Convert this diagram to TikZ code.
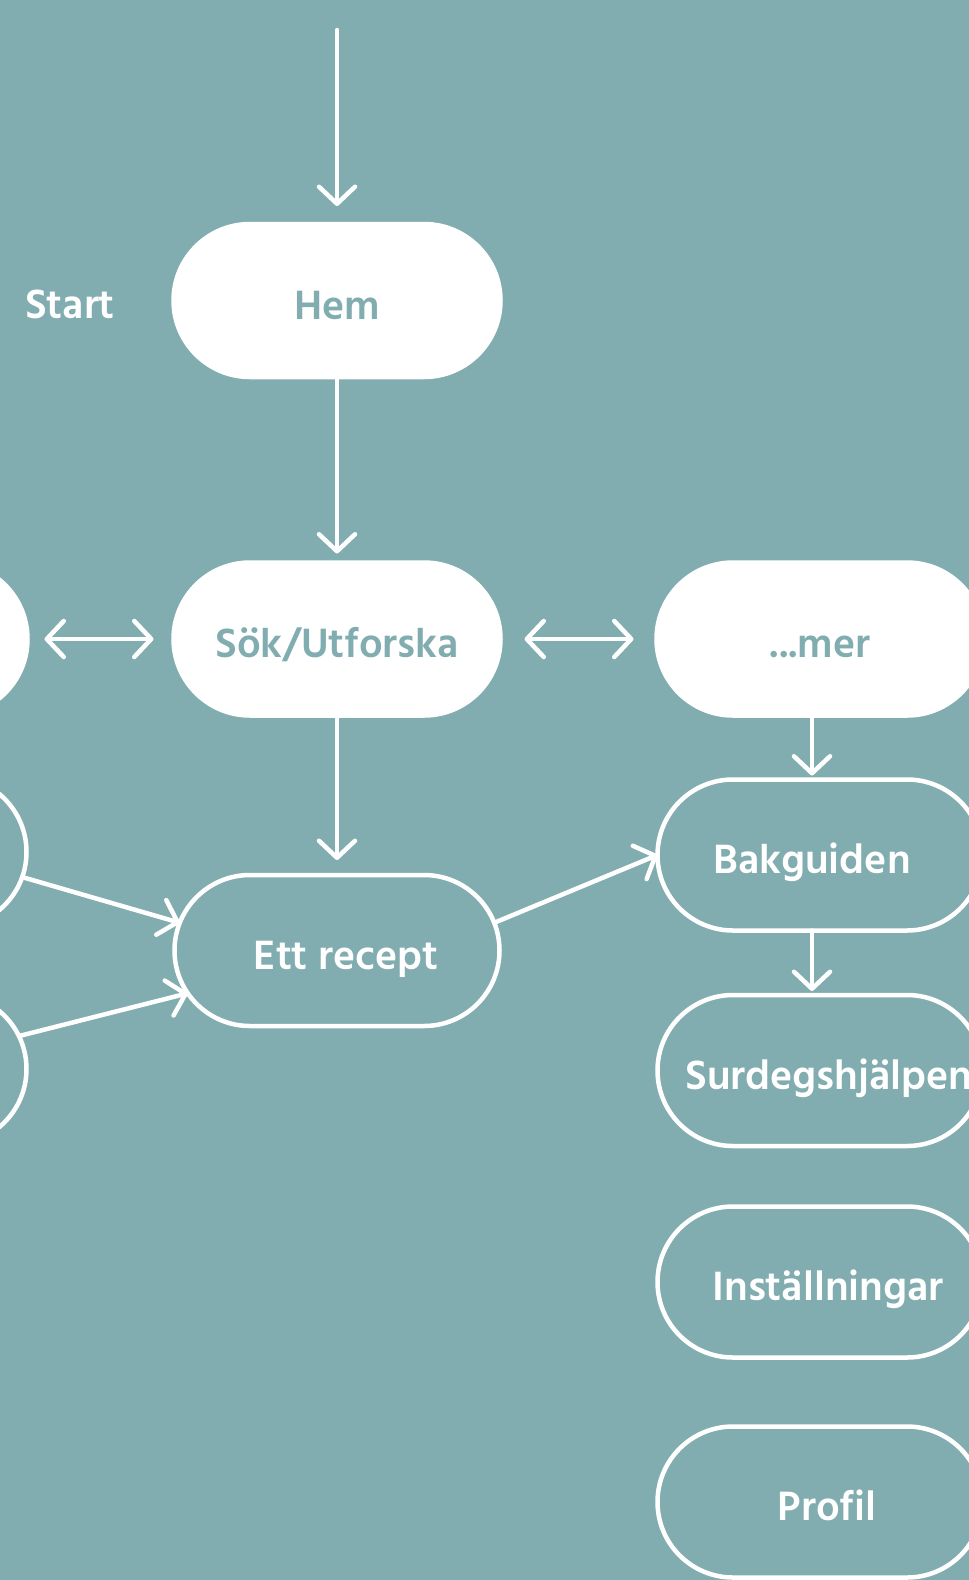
\documentclass[tikz,border=0pt]{standalone}
\usepackage{fontspec}
\setmainfont{Hind Madurai}
\usetikzlibrary{arrows.meta,shapes.misc,calc}
\definecolor{bg}{RGB}{130,173,176}
\tikzset{
  tip/.tip={Straight Barb[length=17pt,width=36pt,line cap=round,line join=round]},
  box/.style={rounded rectangle, minimum width=325pt, minimum height=151pt, line width=4.5pt,
    draw=white, inner sep=0pt, outer sep=0pt, text height=37pt, text depth=0pt,
    font=\fontsize{42}{50}\selectfont\bfseries},
  filledbox/.style={box, fill=white, text=bg, minimum width=327pt, minimum height=153pt},
  openbox/.style={box, text=white},
  lbl/.style={text=white, inner sep=0pt, font=\fontsize{42}{50}\selectfont\bfseries},
  conn/.style={draw=white, line width=4.5pt, line cap=round, -tip},
  both/.style={draw=white, line width=4.5pt, line cap=round, tip-tip}
}
\begin{document}
\begin{tikzpicture}[x=1pt,y=-1pt]
\fill[bg] (0,0) rectangle (969,1580);
\useasboundingbox (0,0) rectangle (969,1580);

\node[lbl, anchor=base] (start) at (70,318) {Start};
\node[filledbox] (hem) at (337,300.5) {Hem};
\node[filledbox] (l0) at (-136,639) {};
\node[filledbox] (sok) at (337,639) {Sök/Utforska};
\node[filledbox] (mer) at (820,639) {...mer};
\node[openbox] (l1) at (-136,852) {};
\node[openbox] (l2) at (-136,1069) {};
\node[openbox] (recept) at (337,950.5) {\hspace*{18pt}Ett recept};
\node[openbox] (bak) at (820,855) {\hspace*{-16pt}Bakguiden};
\node[openbox] (surdeg) at (820,1070.5) {\hspace*{18pt}Surdegshjälpen};
\node[openbox] (inst) at (820,1282) {\hspace*{16pt}Inställningar};
\node[openbox] (profil) at (820,1502) {\hspace*{14pt}Profil};

\coordinate (top) at (337,30);
\draw[conn, shorten >=18pt] (top) -- (hem.north);
\draw[conn, shorten >=9pt] (hem.south) -- (sok.north);
\draw[conn, shorten >=15pt] (sok.south) -- (recept.north);
\draw[both, shorten <=17pt, shorten >=20pt] (l0.east) -- (sok.west);
\draw[both, shorten <=24pt, shorten >=23pt] (sok.east) -- (mer.west);
\draw[conn] (l1.351) -- (recept.170);
\draw[conn] (l2.12) -- (recept.196);
\draw[conn] (recept.10) -- (bak.west);
\draw[conn, shorten >=4pt] ([xshift=-8pt]mer.south) -- ([xshift=-8pt]bak.north);
\draw[conn, shorten >=4pt] ([xshift=-8pt]bak.south) -- ([xshift=-8pt]surdeg.north);
\end{tikzpicture}
\end{document}
